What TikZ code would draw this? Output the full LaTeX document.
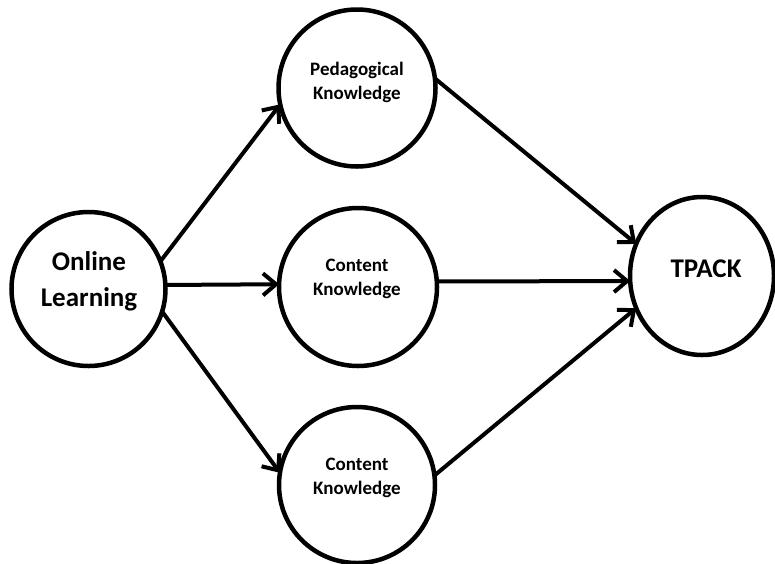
\documentclass[tikz,border=0pt]{standalone}
\usepackage{fontspec}
\setmainfont{Carlito}
\usetikzlibrary{arrows.meta,shapes.geometric}
\begin{document}
\begin{tikzpicture}[x=1pt,y=-1pt,
  circ/.style={circle, draw, line width=4.5pt, inner sep=0pt, outer sep=0pt},
  oval/.style={ellipse, draw, line width=4.5pt, inner sep=0pt, outer sep=0pt},
  lbl/.style={align=center, font=\bfseries\fontsize{19}{24}\selectfont, inner sep=0pt},
  big/.style={align=center, font=\bfseries\fontsize{27}{36}\selectfont, inner sep=0pt},
  arr/.style={line width=4pt, -{Straight Barb[length=13pt,width=22pt]}}]
\useasboundingbox (0,0) rectangle (775,563);
\node[circ, minimum size=154pt] (ol) at (88.5,289) {};
\node[circ, minimum size=157pt] (pk) at (357,88) {};
\node[circ, minimum size=158pt] (ck1) at (358,287) {};
\node[circ, minimum size=156pt] (ck2) at (357,485) {};
\node[oval, minimum width=144pt, minimum height=158pt] (tp) at (702,276) {};
\node[big] (olt) at (89,281) {Online\\Learning};
\node[lbl] (pkt) at (357,82) {Pedagogical\\Knowledge};
\node[lbl] (ck1t) at (357,279) {Content\\Knowledge};
\node[lbl] (ck2t) at (357,478) {Content\\Knowledge};
\node[big] (tpt) at (706,268.5) {TPACK};
\draw[arr] (ol.21) -- (pk.192);
\draw[arr] (ol.3) -- (ck1.178);
\draw[arr] (ol.-17) -- (ck2.171);
\draw[arr] (pk.7) -- (tp.154);
\draw[arr] (ck1.4) -- (tp.184);
\draw[arr] (ck2.7) -- (tp.206);
\end{tikzpicture}
\end{document}
